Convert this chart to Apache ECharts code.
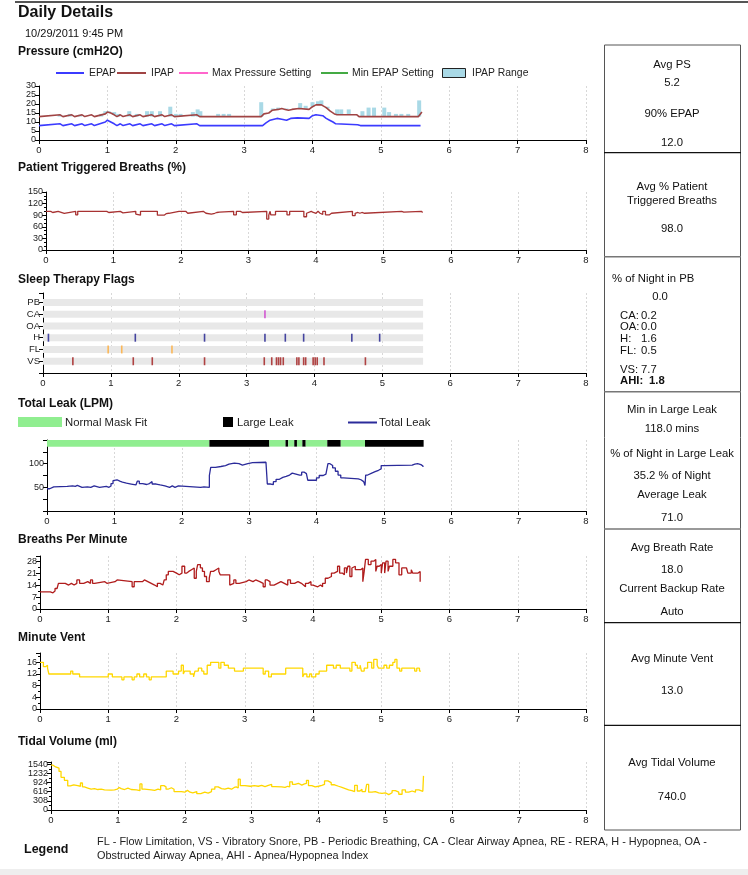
<!DOCTYPE html>
<html><head><meta charset="utf-8">
<script src="https://cdn.jsdelivr.net/npm/echarts@6/dist/echarts.min.js"></script>
<style>html,body{margin:0;padding:0;background:#fff}#c{width:748px;height:875px}</style>
</head><body><div id="c"></div>
<script>
// ---------------- DATA ----------------
const xTicks = [0,1,2,3,4,5,6,7,8];
// Pressure (cmH2O): [hour, value]
const epap = [[0,8],[0.31,9],[0.35,8],[0.48,9],[0.52,8],[0.63,9],[0.67,8],[0.77,9],[0.81,8],[0.97,10],[1.0,11],[1.05,10],[1.1,9],[1.14,8],[1.19,9],[1.23,8],[1.33,9],[1.37,8],[1.48,9],[1.52,8],[1.65,9],[1.69,8],[1.8,9],[1.84,8],[1.94,9],[1.98,8],[2.31,9],[2.35,8],[3.27,8],[3.32,9.5],[3.38,11],[3.48,12],[3.55,11.5],[3.62,11],[3.68,12],[3.78,12.3],[3.95,12],[4.0,13.5],[4.05,14],[4.15,13.5],[4.2,12],[4.25,11],[4.3,10],[4.34,9],[4.66,8.5],[4.7,8],[5.58,8]];
const ipap = [[0,13],[0.31,14],[0.35,13],[0.48,14],[0.52,13],[0.63,14],[0.67,13],[0.77,14],[0.81,13],[0.97,14.5],[1.0,15.5],[1.05,15],[1.1,14],[1.14,13],[1.19,14],[1.23,13],[1.33,14],[1.37,13],[1.48,14],[1.52,13],[1.65,14],[1.69,13],[1.8,14],[1.84,13],[1.94,14],[1.98,13],[2.31,14],[2.35,13],[3.25,13],[3.29,14.5],[3.36,15],[3.41,16.5],[3.5,17],[3.55,17.5],[3.6,17],[3.65,16.5],[3.7,17],[3.8,17.5],[3.95,17],[4.0,18.5],[4.05,19.5],[4.13,19.5],[4.2,18],[4.26,16],[4.32,14.5],[4.36,14],[4.65,14],[4.68,13],[5.55,13],[5.6,15.5]];
const maxPressureSetting = [];
const minEpapSetting = [];
const rangeT    = [0.30,0.45,0.60,0.91,0.97,1.02,1.10,1.16,1.32,1.43,1.58,1.65,1.77,1.92,2.00,2.07,2.25,2.32,2.36,2.62,2.70,2.78,3.25,3.42,3.50,3.62,3.82,3.90,4.00,4.08,4.13,4.22,4.36,4.42,4.53,4.73,4.82,4.90,5.05,5.12,5.22,5.30,5.40,5.56];
const rangeLow  = [13,13,13,13,14.5,15,14,13,13,13,13,13,13,13,13,13,13,13,13,13,13,13,13,16.5,17,17,17.5,17.5,18.5,19.5,19.5,17.5,14,14,14,13,13,13,13,13,13,13,13,13];
const rangeHigh = [14,14.5,14,14.5,16,16,15.5,14.5,16,14.5,16,16,16,18.5,14.5,14.5,15.5,17,16,14.5,14.5,14.5,21,17.5,18,17.5,20.5,19,21,21.5,22,18.5,17,17,17,16,18,18,18,15.5,14.5,14.5,14.5,22];
// Patient triggered breaths (%)
const ptb = [[0,100],[0.07,97],[0.1,100],[0.18,97],[0.2,95],[0.27,100],[0.44,91],[0.47,100],[0.58,97],[0.6,100],[0.9,97],[0.93,100],[1.1,96],[1.14,100],[1.33,93],[1.35,90],[1.4,100],[1.65,90],[1.7,95],[1.72,90],[1.75,94],[1.78,95],[1.82,100],[1.97,97],[1.99,100],[2.07,95],[2.1,100],[2.33,95],[2.37,93],[2.45,95],[2.5,97],[2.53,100],[2.55,98],[2.57,100],[2.78,91],[2.82,100],[2.88,97],[2.91,100],[3.27,80],[3.3,90],[3.32,100],[3.33,91],[3.4,100],[3.57,91],[3.61,100],[3.82,86],[3.86,95],[3.88,100],[3.93,97],[3.96,95],[4.0,100],[4.03,95],[4.06,92],[4.1,100],[4.14,91],[4.2,95],[4.23,100],[4.54,89],[4.58,95],[4.6,97],[4.62,95],[4.65,97],[4.68,95],[4.72,100],[5.27,98],[5.3,100],[5.56,97],[5.58,97]];
// Sleep therapy flags (event hours)
const flagNames = ['VS','FL','H','OA','CA','PB'];
const flagEnd = 5.6;
const pbEvents = [];
const caEvents = [3.27];
const oaEvents = [];
const hEvents  = [0.08,1.36,2.38,3.27,3.57,3.84,4.55,4.96];
const flEvents = [0.96,1.16,1.9];
const vsEvents = [0.44,1.33,1.61,2.38,3.26,3.37,3.44,3.47,3.5,3.54,3.74,3.77,3.84,3.87,3.98,4.01,4.04,4.14,4.75];
// Total leak (LPM)
const leak = [[0,47],[0.04,51],[0.1,52],[0.3,53],[0.38,52],[0.42,54],[0.45,50],[0.52,51],[0.6,50],[0.65,53],[0.7,50],[0.78,52],[0.88,50],[0.92,53],[0.95,58],[0.98,64],[1.0,66],[1.04,63],[1.08,61],[1.12,59],[1.18,57],[1.25,55],[1.32,58],[1.34,63],[1.37,58],[1.42,56],[1.48,58],[1.52,62],[1.56,57],[1.62,55],[1.68,53],[1.75,50],[1.82,53],[1.86,50],[1.9,53],[1.95,50],[2.28,51],[2.33,50],[2.41,75],[2.43,92],[2.5,94],[2.58,96],[2.65,99],[2.7,101],[2.78,100],[2.85,97],[2.9,100],[2.98,102],[3.05,103],[3.25,102],[3.27,57],[3.32,56],[3.36,62],[3.4,67],[3.45,71],[3.5,73],[3.55,76],[3.6,80],[3.64,76],[3.75,76],[3.78,82],[3.82,79],[3.85,80],[3.87,65],[4.0,70],[4.04,75],[4.1,78],[4.14,81],[4.16,76],[4.17,100],[4.2,96],[4.24,91],[4.28,84],[4.32,76],[4.36,70],[4.4,68],[4.62,66],[4.66,62],[4.7,58],[4.72,54],[4.73,76],[4.76,80],[4.82,83],[4.87,86],[4.92,89],[4.96,96],[5.0,97],[5.42,99],[5.46,100],[5.5,98],[5.55,95],[5.58,93]];
const maskStart = [0,2.41,3.3,3.54,3.58,3.67,3.71,3.79,3.84,4.16,4.36,4.72];
const maskEnd   = [2.41,3.3,3.54,3.58,3.67,3.71,3.79,3.84,4.16,4.36,4.72,5.59];
const maskLarge = [0,1,0,1,0,1,0,1,0,1,0,1];
// Breaths per minute
const bpm = [[0,10],[0.15,9.5],[0.19,10.5],[0.22,12],[0.25,13],[0.27,15],[0.37,14],[0.42,15],[0.46,14],[0.5,15],[0.54,17],[0.58,15],[0.64,16],[0.7,15],[0.74,17],[0.77,15],[0.8,16],[0.95,15],[0.98,16],[1.1,17],[1.13,16],[1.35,13],[1.38,16],[1.5,17],[1.53,16],[1.58,15],[1.63,14],[1.68,13],[1.72,15],[1.76,14],[1.8,15],[1.82,17],[1.85,20],[1.88,22],[1.95,21],[2.0,20],[2.04,21],[2.08,25],[2.12,21],[2.15,22],[2.18,23],[2.22,24],[2.26,18],[2.29,22],[2.31,26],[2.35,24],[2.38,22],[2.41,19],[2.44,16],[2.48,18],[2.5,22],[2.54,23],[2.58,24],[2.62,22],[2.64,20],[2.75,20],[2.78,14],[2.8,15],[2.84,17],[2.87,15],[2.92,16],[3.02,17],[3.06,16],[3.12,17],[3.16,16],[3.22,15],[3.27,13],[3.3,17],[3.33,16],[3.37,14],[3.43,15],[3.48,16],[3.53,15],[3.58,14],[3.63,17],[3.67,15],[3.73,16],[3.78,15],[3.83,14],[3.86,13],[3.89,15],[3.93,16],[3.97,14],[4.0,13],[4.07,14],[4.11,13],[4.14,15],[4.18,18],[4.22,19],[4.27,21],[4.31,22],[4.36,25],[4.39,21],[4.43,20],[4.46,24],[4.49,21],[4.51,25],[4.54,19],[4.57,24],[4.59,25],[4.62,23],[4.7,24],[4.73,16],[4.75,22],[4.77,29],[4.81,26],[4.85,28],[4.89,29],[4.92,22],[4.94,25],[4.97,26],[5.0,21],[5.02,27],[5.05,21],[5.07,28],[5.1,22],[5.12,25],[5.17,29],[5.21,27],[5.26,20],[5.3,24],[5.37,24],[5.39,21],[5.44,23],[5.46,21],[5.54,22],[5.57,16],[5.58,16]];
// Minute vent
const mv = [[0,16],[0.05,14.5],[0.08,15],[0.11,14],[0.13,12],[0.45,13],[0.48,12],[0.58,11],[1.0,12],[1.06,11],[1.2,10],[1.23,11],[1.35,10],[1.38,11],[1.42,12],[1.46,11],[1.52,12],[1.56,11],[1.6,10],[1.63,11],[1.85,13],[1.95,12],[2.03,13],[2.07,15],[2.1,12],[2.12,13],[2.2,12],[2.25,11],[2.27,13],[2.32,14],[2.37,13],[2.4,12],[2.45,15],[2.5,16],[2.62,14],[2.65,16],[2.7,15],[2.76,14],[2.85,13],[2.98,14],[3.27,12],[3.3,13],[3.35,11],[3.39,12],[3.6,14],[3.85,11],[3.87,12],[3.91,11],[3.95,12],[3.98,11],[4.04,12],[4.09,13],[4.2,15],[4.3,14],[4.34,15],[4.4,14],[4.54,13],[4.57,16],[4.62,15],[4.65,14],[4.69,15],[4.71,13],[4.75,14],[4.8,16],[4.86,14],[4.89,17],[4.94,15],[4.96,14],[5.04,15],[5.08,14],[5.12,15],[5.17,16],[5.2,17],[5.23,14],[5.27,13],[5.3,14],[5.49,13],[5.52,14],[5.56,13],[5.58,13]];
// Tidal volume (ml)
const tv = [[0,1510],[0.03,1450],[0.07,1410],[0.12,1300],[0.15,1100],[0.2,1000],[0.25,810],[0.29,850],[0.34,820],[0.4,800],[0.44,910],[0.47,780],[0.5,740],[0.55,700],[0.6,720],[0.65,690],[0.7,700],[0.75,680],[0.8,670],[0.9,680],[0.95,700],[0.99,760],[1.02,720],[1.05,690],[1.1,700],[1.12,740],[1.15,690],[1.2,680],[1.28,650],[1.33,880],[1.36,700],[1.4,680],[1.5,660],[1.55,700],[1.6,680],[1.64,820],[1.69,780],[1.72,700],[1.75,750],[1.8,700],[1.84,620],[1.95,600],[2.0,660],[2.04,600],[2.08,580],[2.12,620],[2.18,550],[2.24,600],[2.3,570],[2.35,620],[2.4,700],[2.45,780],[2.5,720],[2.55,700],[2.6,740],[2.65,700],[2.7,760],[2.74,780],[2.77,740],[2.8,1040],[2.83,820],[2.9,800],[2.98,820],[3.04,800],[3.1,830],[3.15,790],[3.2,830],[3.25,860],[3.3,790],[3.35,780],[3.45,760],[3.5,800],[3.54,780],[3.57,950],[3.61,860],[3.65,900],[3.7,840],[3.75,880],[3.79,900],[3.82,1000],[3.85,820],[3.9,780],[3.95,800],[4.0,830],[4.05,860],[4.09,980],[4.14,920],[4.19,850],[4.24,800],[4.3,760],[4.35,720],[4.4,680],[4.45,650],[4.5,620],[4.54,830],[4.58,640],[4.62,700],[4.65,620],[4.7,640],[4.72,860],[4.75,600],[4.8,620],[4.85,580],[4.9,560],[4.95,580],[5.0,520],[5.05,580],[5.1,650],[5.15,600],[5.2,530],[5.25,680],[5.3,600],[5.35,640],[5.4,600],[5.45,680],[5.5,630],[5.56,640],[5.57,1150]];
// Axis tick labels
const pressureTicks = [0,5,10,15,20,25,30];
const ptbTicks = [0,30,60,90,120,150];
const leakTicks = [50,100];
const bpmTicks = [0,7,14,21,28];
const mvTicks = [0,4,8,12,16];
const tvTicks = [0,308,616,924,1232,1540];

// ---------------- CHART ----------------
const FF = '"Liberation Sans", Arial, sans-serif';
const chart = echarts.init(document.getElementById('c'), null, {renderer:'canvas'});

const grids = [
  {left:39, top:86,  width:547, height:54},
  {left:46, top:192, width:540, height:58},
  {left:43, top:293, width:543, height:80},
  {left:47, top:440, width:539, height:71},
  {left:40, top:556, width:546, height:53},
  {left:40, top:653, width:546, height:56},
  {left:51, top:762, width:535, height:48}
];
function xAx(i){
  return {type:'value', gridIndex:i, min:xTicks[0], max:xTicks[xTicks.length-1], interval:1,
    axisLine:{onZero:false, lineStyle:{color:'#000', width:1}},
    axisTick:{length:4, lineStyle:{color:'#000'}},
    axisLabel:{fontSize:9.5, color:'#222', fontFamily:FF, margin:5},
    splitLine:{show:true, lineStyle:{color:'#d8d8d8', type:[2,2], width:1}}};
}
function yAx(i, min, max, interval, ticks, minorSplit){
  return {type:'value', gridIndex:i, min, max, interval,
    axisLine:{show:true, lineStyle:{color:'#000', width:1}},
    axisTick:{show:true, length:4, lineStyle:{color:'#000'}},
    minorTick:{show:!!minorSplit, splitNumber:minorSplit||1, length:2, lineStyle:{color:'#000'}},
    splitLine:{show:false},
    axisLabel:{fontSize:9, color:'#222', fontFamily:FF, margin:3, showMaxLabel:true,
      formatter:v=> ticks.indexOf(v) >= 0 ? String(v) : ''}};
}
const flagYAxis = yAx(2, 0, 6.8, 1, [], 0);
flagYAxis.axisLabel.formatter = v => (v>=1 && v<=6 && Number.isInteger(v)) ? flagNames[v-1] : '';
flagYAxis.axisLabel.fontSize = 9.5;

const xAxes = grids.map((g,i)=>xAx(i));
const yAxes = [
  yAx(0, 0, 30, 5, pressureTicks, 0),
  yAx(1, 0, 150, 30, ptbTicks, 3),
  flagYAxis,
  yAx(3, 0, 150, 25, leakTicks, 0),
  yAx(4, 0, 31, 7, bpmTicks, 2),
  yAx(5, 0, 19.2, 4, mvTicks, 2),
  yAx(6, 0, 1617, 308, tvTicks, 2)
];

function line(i, name, data, color, step, w){
  return {type:'line', name, xAxisIndex:i, yAxisIndex:i, data, step:step||false, showSymbol:false,
    symbol:'none', lineStyle:{color, width:w||1.3}, itemStyle:{color}, z:5, silent:true};
}
const series = [];
series.push({type:'custom', name:'IPAP Range', xAxisIndex:0, yAxisIndex:0, z:2, silent:true,
  data: rangeT.map((t,i)=>[t, rangeLow[i], rangeHigh[i]]),
  encode:{x:0, y:[1,2]},
  renderItem:(params, api)=>{
    const a = api.coord([api.value(0), api.value(1)]);
    const b = api.coord([api.value(0), api.value(2)]);
    return {type:'rect', shape:{x:a[0]-2, y:b[1], width:4, height:a[1]-b[1]}, style:{fill:'#a9d9e6'}};
  }});
series.push(line(0,'Max Pressure Setting', maxPressureSetting, '#ff66cc'));
series.push(line(0,'Min EPAP Setting', minEpapSetting, '#44aa44'));
series.push(line(0,'EPAP', epap, '#3b3bff', false, 1.6));
series.push(line(0,'IPAP', ipap, '#a04444', false, 1.6));
series.push(line(1,'Patient Triggered Breaths', ptb, '#a83232', 'end', 1.3));
// flags
flagNames.forEach((n,k)=>{
  series.push({type:'line', xAxisIndex:2, yAxisIndex:2, data:[[0,k+1],[flagEnd,k+1]], symbol:'none',
    lineStyle:{color:'#e8e8e8', width:7, cap:'butt'}, z:1, silent:true});
});
const flagEvents = [
  {name:'PB', ev:pbEvents, color:'#7a3d99'},
  {name:'CA', ev:caEvents, color:'#cc33cc'},
  {name:'OA', ev:oaEvents, color:'#996633'},
  {name:'H',  ev:hEvents,  color:'#1a1a8c'},
  {name:'FL', ev:flEvents, color:'#ffaa33'},
  {name:'VS', ev:vsEvents, color:'#a01818'}
];
flagEvents.forEach(f=>{
  const yv = flagNames.indexOf(f.name)+1;
  series.push({type:'scatter', xAxisIndex:2, yAxisIndex:2, data:f.ev.map(t=>[t,yv]),
    symbol:'rect', symbolSize:[1.6,8], itemStyle:{color:f.color}, z:5, silent:true});
});
// leak with mask-fit band
const leakSeries = line(3,'Total Leak', leak, '#2b2b9a', 'end', 1.3);
leakSeries.markArea = {silent:true, data: maskStart.map((s,i)=>[
  {xAxis:s, yAxis:136, itemStyle:{color: maskLarge[i] ? '#000000' : '#90ee90', opacity:1}},
  {xAxis:maskEnd[i], yAxis:152}])};
series.push(leakSeries);
series.push(line(4,'Breaths Per Minute', bpm, '#b01c1c', 'end', 1.3));
series.push(line(5,'Minute Vent', mv, '#ffd700', 'end', 1.3));
series.push(line(6,'Tidal Volume', tv, '#ffd700', 'end', 1.3));

// ---------------- TEXT / DECOR ----------------
const G = [];
function T(text, x, y, o){
  o = o || {};
  G.push({type:'text', silent:true, z:10, style:{text, x, y,
    font:(o.bold?'bold ':'') + (o.size||11) + 'px ' + FF,
    fill:o.color||'#111', textAlign:o.align||'left', align:o.align||'left',
    textVerticalAlign:'middle', verticalAlign:'middle'}});
}
function L(x1,y1,x2,y2,color,w){
  G.push({type:'line', silent:true, z:10, shape:{x1,y1,x2,y2}, style:{stroke:color||'#444', lineWidth:w||1}});
}
function R(x,y,w,h,fill,stroke){
  G.push({type:'rect', silent:true, z:10, shape:{x,y,width:w,height:h}, style:{fill, stroke:stroke||null, lineWidth:1}});
}
const PS = 11.3; // panel text size
// page top line and bottom band
L(15,2,748,2,'#555',2);
R(0,869,748,6,'#eeeeee');
T('Daily Details', 18, 13, {bold:true, size:16});
T('10/29/2011 9:45 PM', 25, 34, {size:11});
T('Pressure (cmH2O)', 18, 52, {bold:true, size:12});
// pressure legend
L(56,73,84,73,'#3b3bff',2); T('EPAP', 89, 73, {size:10.4, color:'#222'});
L(117,73,146,73,'#a04444',2); T('IPAP', 151, 73, {size:10.4, color:'#222'});
L(179,73,208,73,'#ff66cc',2); T('Max Pressure Setting', 212, 73, {size:10.4, color:'#222'});
L(321,73,348,73,'#44aa44',2); T('Min EPAP Setting', 352, 73, {size:10.4, color:'#222'});
R(442.5,68.5,23,9,'#a9d9e6','#222'); T('IPAP Range', 472, 73, {size:10.4, color:'#222'});
T('Patient Triggered Breaths (%)', 18, 168, {bold:true, size:12});
T('Sleep Therapy Flags', 18, 280, {bold:true, size:12});
T('Total Leak (LPM)', 18, 404, {bold:true, size:12});
R(18,417,44,10,'#90ee90'); T('Normal Mask Fit', 65, 422.5, {size:11.3, color:'#222'});
R(223,417,10,10,'#000'); T('Large Leak', 237, 422.5, {size:11.3, color:'#222'});
L(348,422.5,377,422.5,'#2b2b9a',2); T('Total Leak', 379, 422.5, {size:11.3, color:'#222'});
T('Breaths Per Minute', 18, 540, {bold:true, size:12});
T('Minute Vent', 18, 638, {bold:true, size:12});
T('Tidal Volume (ml)', 18, 742, {bold:true, size:12});
T('Legend', 24, 850, {bold:true, size:12.5});
T('FL - Flow Limitation, VS - Vibratory Snore, PB - Periodic Breathing, CA - Clear Airway Apnea, RE - RERA, H - Hypopnea, OA -', 97, 842, {size:10.9, color:'#222'});
T('Obstructed Airway Apnea, AHI - Apnea/Hypopnea Index', 97, 856, {size:10.9, color:'#222'});
// right panel
R(604.5,45,136,785,null,'#555');
const sepY = [152.7,256.7,391.7,529,622.7,725.3];
const sepC = ['#111','#777','#777','#777','#111','#111'];
sepY.forEach((y,i)=>L(604,y,741,y, sepC[i], sepC[i]==='#111'?1.2:1.6));
const CX = 672;
T('Avg PS', CX, 65, {align:'center', size:PS});
T('5.2', CX, 83, {align:'center', size:PS});
T('90% EPAP', CX, 114, {align:'center', size:PS});
T('12.0', CX, 143, {align:'center', size:PS});
T('Avg % Patient', CX, 187, {align:'center', size:PS});
T('Triggered Breaths', CX, 201, {align:'center', size:PS});
T('98.0', CX, 229, {align:'center', size:PS});
T('% of Night in PB', 612, 279, {size:PS});
T('0.0', 660, 297, {align:'center', size:PS});
T('CA:', 620, 316, {size:PS}); T('0.2', 641, 316, {size:PS});
T('OA:', 620, 327, {size:PS}); T('0.0', 641, 327, {size:PS});
T('H:', 620, 339, {size:PS}); T('1.6', 641, 339, {size:PS});
T('FL:', 620, 351, {size:PS}); T('0.5', 641, 351, {size:PS});
T('VS:', 620, 370, {size:PS}); T('7.7', 641, 370, {size:PS});
T('AHI:', 620, 381, {size:PS, bold:true}); T('1.8', 649, 381, {size:PS, bold:true});
T('Min in Large Leak', CX, 410, {align:'center', size:PS});
T('118.0 mins', CX, 429, {align:'center', size:PS});
T('% of Night in Large Leak', CX, 454, {align:'center', size:PS});
T('35.2 % of Night', CX, 476, {align:'center', size:PS});
T('Average Leak', CX, 495, {align:'center', size:PS});
T('71.0', CX, 518, {align:'center', size:PS});
T('Avg Breath Rate', CX, 548, {align:'center', size:PS});
T('18.0', CX, 570, {align:'center', size:PS});
T('Current Backup Rate', CX, 589, {align:'center', size:PS});
T('Auto', CX, 612, {align:'center', size:PS});
T('Avg Minute Vent', CX, 659, {align:'center', size:PS});
T('13.0', CX, 691, {align:'center', size:PS});
T('Avg Tidal Volume', CX, 763, {align:'center', size:PS});
T('740.0', CX, 797, {align:'center', size:PS});

chart.setOption({
  animation:false,
  backgroundColor:'#ffffff',
  grid: grids,
  xAxis: xAxes,
  yAxis: yAxes,
  series,
  graphic: G
});
</script></body></html>
